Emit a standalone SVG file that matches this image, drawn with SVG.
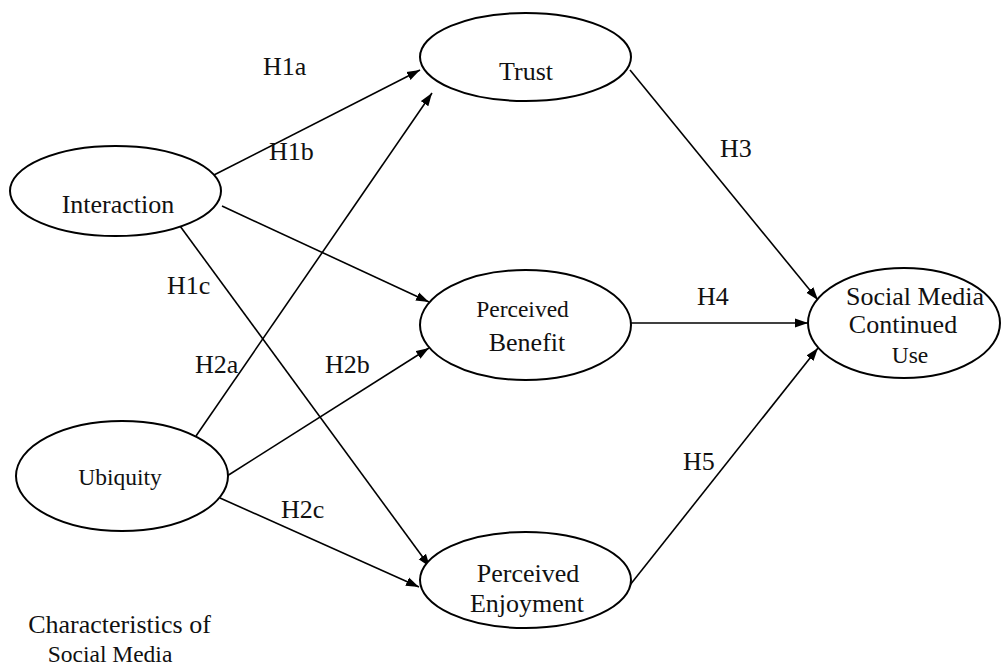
<svg xmlns="http://www.w3.org/2000/svg" width="1007" height="666" viewBox="0 0 1007 666">
<style>
.node ellipse{fill:#fff;stroke:#000;stroke-width:2}
text{font-family:"Liberation Serif","Times New Roman",serif;fill:#111;text-anchor:middle}
.big{font-size:26px}
.small{font-size:23.5px}
.lbl{font-size:26px;text-anchor:start}
#connectors line{stroke:#000;stroke-width:1.6;marker-end:url(#arr)}
</style>
<defs>
<marker id="arr" markerUnits="userSpaceOnUse" markerWidth="14" markerHeight="10" refX="13" refY="5" orient="auto">
<path d="M0,0.5 L13,5 L0,9.5 z" fill="#000"/>
</marker>
</defs>
<rect width="1007" height="666" fill="#fff"/>
<g id="connectors">
<line x1="210" y1="177" x2="420" y2="70"/>
<line x1="222" y1="206" x2="429" y2="302"/>
<line x1="180" y1="226" x2="430" y2="567"/>
<line x1="196" y1="436" x2="432" y2="93"/>
<line x1="227" y1="476" x2="429" y2="348"/>
<line x1="220" y1="498" x2="419" y2="587"/>
<line x1="630" y1="70" x2="818" y2="300"/>
<line x1="631" y1="323" x2="808" y2="323"/>
<line x1="630" y1="585" x2="818" y2="348"/>
</g>
<g id="labels">
<text class="lbl" x="263" y="75">H1a</text>
<text class="lbl" x="269" y="160">H1b</text>
<text class="lbl" x="167" y="294">H1c</text>
<text class="lbl" x="195" y="373">H2a</text>
<text class="lbl" x="325" y="373">H2b</text>
<text class="lbl" x="281" y="518">H2c</text>
<text class="lbl" x="720" y="157">H3</text>
<text class="lbl" x="697" y="305">H4</text>
<text class="lbl" x="683" y="470">H5</text>
</g>
<g id="interaction" class="node">
<ellipse cx="115.5" cy="191" rx="105.5" ry="45"/>
<text class="big" x="118" y="213">Interaction</text>
</g>
<g id="ubiquity" class="node">
<ellipse cx="122" cy="476" rx="106" ry="55"/>
<text class="small" x="120" y="485">Ubiquity</text>
</g>
<g id="trust" class="node">
<ellipse cx="525.5" cy="57" rx="105.5" ry="44"/>
<text class="big" x="526" y="80">Trust</text>
</g>
<g id="benefit" class="node">
<ellipse cx="525.5" cy="325" rx="105.5" ry="55"/>
<text class="small" x="522.5" y="317">Perceived</text>
<text class="big" x="527" y="351">Benefit</text>
</g>
<g id="enjoyment" class="node">
<ellipse cx="525.5" cy="580" rx="105.5" ry="48"/>
<text class="big" x="528" y="582">Perceived</text>
<text class="big" x="527" y="612">Enjoyment</text>
</g>
<g id="continued" class="node">
<ellipse cx="904" cy="323" rx="96" ry="55"/>
<text class="big" x="915" y="305">Social Media</text>
<text class="big" x="903" y="333">Continued</text>
<text class="small" x="910" y="363">Use</text>
</g>
<g id="caption">
<text class="big" x="119.5" y="633">Characteristics of</text>
<text class="small" x="110" y="662">Social Media</text>
</g>
</svg>
